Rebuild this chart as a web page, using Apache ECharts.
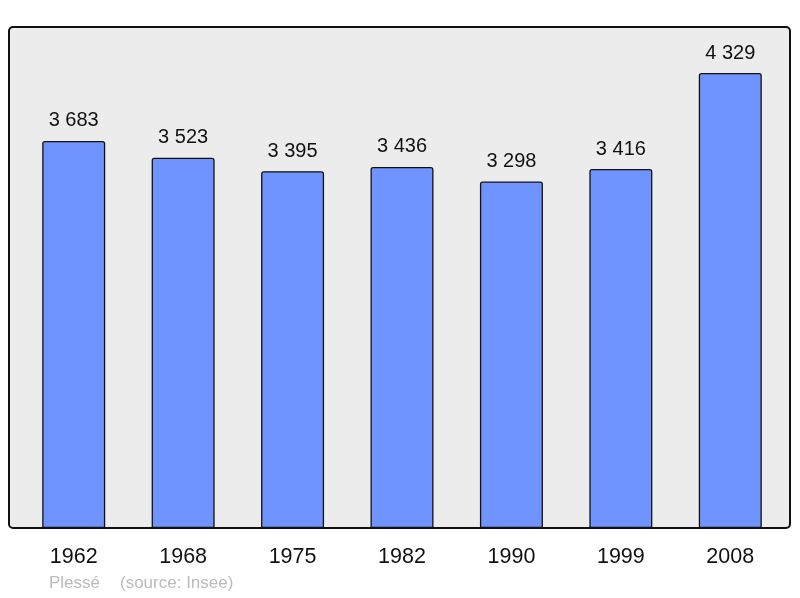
<!DOCTYPE html>
<html><head><meta charset="utf-8">
<script src="https://cdn.jsdelivr.net/npm/echarts@6/dist/echarts.min.js"></script>
<style>html,body{margin:0;padding:0;background:#fff}#c{width:800px;height:598px}</style>
</head><body><div id="c"></div>
<script>
var years = ['1962','1968','1975','1982','1990','1999','2008'];
var population = [3683, 3523, 3395, 3436, 3298, 3416, 4329];
var commune = 'Plessé';
var source = '(source: Insee)';

var FF = 'Liberation Sans, Arial, sans-serif';
var chart = echarts.init(document.getElementById('c'), null, {renderer:'canvas'});
chart.setOption({
  animation:false,
  backgroundColor:'#ffffff',
  textStyle:{fontFamily:FF},
  graphic:[
    {type:'rect', z:-10, shape:{x:9,y:27,width:781,height:501,r:4},
     style:{fill:'#ececec', stroke:'#111', lineWidth:2}},
    {type:'text', left:49, top:575, style:{text:commune, fill:'#bbbbbb', fontSize:17, fontFamily:FF}},
    {type:'text', left:120, top:575, style:{text:source, fill:'#bbbbbb', fontSize:17, fontFamily:FF}}
  ],
  grid:{left:19, right:15, top:27, bottom:70},
  xAxis:{type:'category', data:years,
    axisLine:{show:false}, axisTick:{show:false},
    axisLabel:{fontSize:21.5, color:'#111', margin:18}},
  yAxis:{type:'value', min:0, max:4767, show:false, splitLine:{show:false}},
  series:[{type:'bar', data:population, barWidth:63,
    itemStyle:{color:'#7094ff', borderColor:'#111', borderWidth:1.3, borderRadius:[2,2,0,0]},
    label:{show:true, position:'top', distance:10, fontSize:20, color:'#111',
      formatter:function(p){return String(p.value).replace(/\B(?=(\d{3})+(?!\d))/g,' ');}}
  }]
});
</script></body></html>
